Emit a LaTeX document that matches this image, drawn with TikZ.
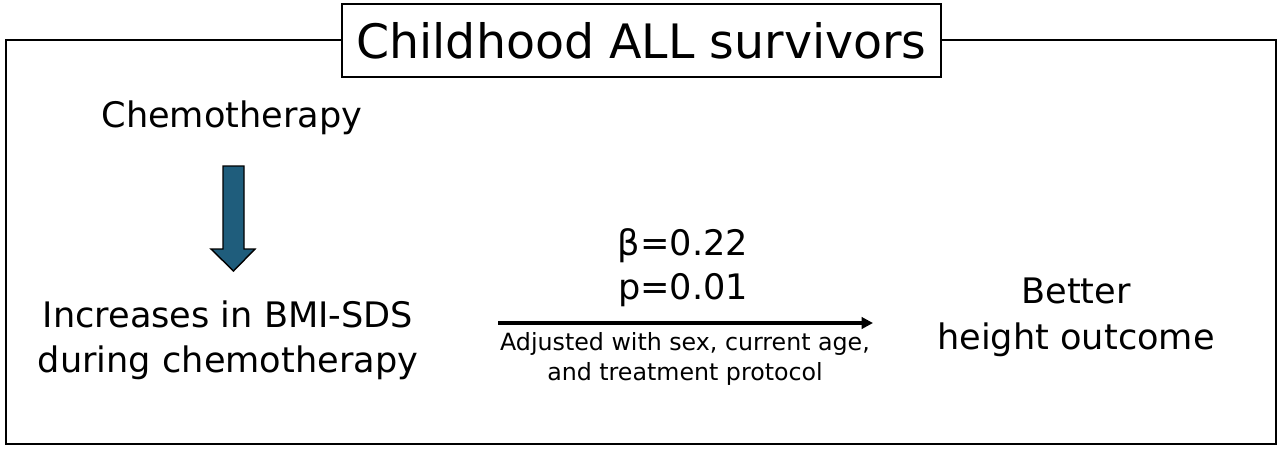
\documentclass[tikz,border=0pt]{standalone}
\usepackage{fontspec}
\setmainfont{DejaVu Sans}
\usetikzlibrary{arrows.meta}
\definecolor{arrowblue}{RGB}{31,93,124}

\begin{document}
\begin{tikzpicture}[x=0.02cm, y=-0.02cm,
		bigtext/.style={align=center, font=\fontsize{20}{25}\selectfont},
		smalltext/.style={align=center, font=\fontsize{13.5}{17}\selectfont}]
	\useasboundingbox (0,0) rectangle (1283,451);
	
	% Outer frame and title
	\draw[line width=1.1pt] (6,40) rectangle (1276,444);
	\node (title) [draw, rectangle, fill=white, line width=1pt, minimum width=11.98cm, minimum height=1.46cm, font=\fontsize{27}{30}\selectfont] at (641.5,40.5) {Childhood ALL survivors};
	
	% Left column
	\node (chemo) [bigtext] at (232,118) {Chemotherapy};
	\node (increase) [bigtext, font=\fontsize{20}{25.5}\selectfont] at (228,340) {Increases in BMI-SDS\\during chemotherapy};
	\draw[fill=arrowblue, line width=0.8pt] (223,166) -- (244,166) -- (244,249) -- (255,249) -- (233.5,271) -- (211,249) -- (223,249) -- cycle;
	
	% Association (middle)
	\node (stats) [bigtext] at (683,268) {β=0.22\\p=0.01};
	\coordinate (from) at (498,323);
	\coordinate (to) at (873,323);
	\draw[-{Triangle[length=6.5pt, width=6.5pt]}, line width=2pt] (from) -- (to);
	\node (adjust) [smalltext] at (685,359) {Adjusted with sex, current age,\\and treatment protocol};
	
	% Right column
	\node (outcome) [bigtext, font=\fontsize{20}{26}\selectfont] at (1076,317) {Better\\height outcome};
\end{tikzpicture}
\end{document}
